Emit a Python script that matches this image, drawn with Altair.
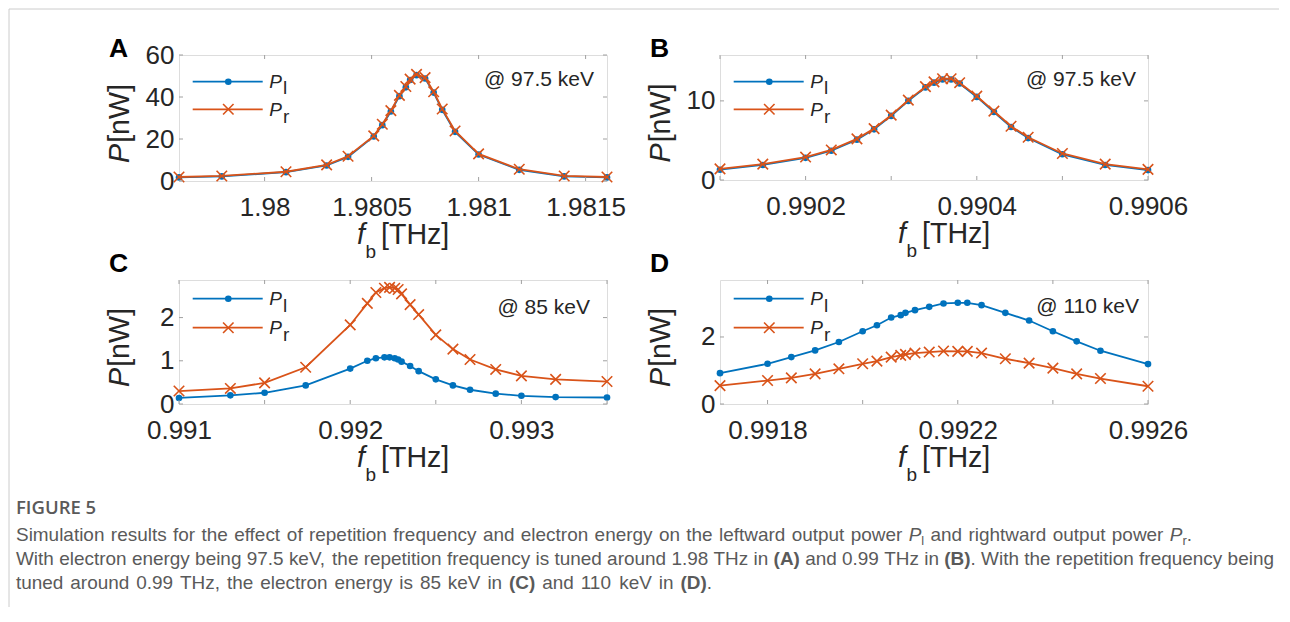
import altair as alt
import pandas as pd

BLUE = "#0072BD"
ORANGE = "#D95319"
AX = "#262626"
BOX = "#a0a0a0"
FONT = "Liberation Sans"
CAPCOL = "#5a5a5a"

# ---------------- data ----------------
a_f = [1.97960, 1.97980, 1.98010, 1.98029, 1.98039, 1.98051, 1.98055, 1.98059, 1.98063,
       1.98066, 1.98068, 1.98071, 1.98075, 1.98079, 1.98083, 1.98089, 1.98100, 1.98119,
       1.98140, 1.98160]
a_pr = [1.9, 2.4, 4.4, 7.7, 11.8, 21.5, 27.0, 33.5, 40.8, 45.0, 48.5, 50.8, 49.2, 42.5,
        34.3, 23.8, 12.9, 5.6, 2.4, 1.9]
a_pl = [1.7, 2.2, 4.2, 7.4, 11.5, 21.2, 26.6, 33.1, 40.4, 44.6, 48.1, 50.4, 48.8, 42.1,
        33.9, 23.4, 12.6, 5.3, 2.2, 1.7]

b_f = [0.99010, 0.99015, 0.99020, 0.99023, 0.99026, 0.99028, 0.99030, 0.99032, 0.99034,
       0.99035, 0.99036, 0.99037, 0.99038, 0.99040, 0.99042, 0.99044, 0.99046, 0.99050,
       0.99055, 0.99060]
b_pr = [1.4, 2.0, 2.9, 3.8, 5.2, 6.5, 8.2, 10.1, 11.8, 12.4, 12.8, 12.8, 12.3, 10.6, 8.7,
        6.8, 5.4, 3.35, 2.0, 1.35]
b_pl = [1.3, 1.9, 2.8, 3.7, 5.1, 6.4, 8.1, 10.0, 11.7, 12.3, 12.7, 12.7, 12.2, 10.5, 8.6,
        6.7, 5.3, 3.25, 1.9, 1.25]

c_f = [0.99100, 0.99130, 0.99150, 0.99174, 0.99200, 0.99210, 0.99215, 0.99220, 0.99223,
       0.99226, 0.99228, 0.99230, 0.99235, 0.99240, 0.99250, 0.99260, 0.99270, 0.99285,
       0.99300, 0.99320, 0.99350]
c_pr = [0.30, 0.36, 0.49, 0.85, 1.83, 2.33, 2.58, 2.68, 2.70, 2.68, 2.65, 2.55, 2.30, 2.07,
        1.60, 1.27, 1.03, 0.80, 0.65, 0.57, 0.52]
c_pl = [0.14, 0.20, 0.26, 0.43, 0.82, 1.00, 1.06, 1.08, 1.08, 1.06, 1.03, 0.98, 0.88, 0.76,
        0.57, 0.43, 0.33, 0.24, 0.19, 0.16, 0.15]

d_f = [0.99170, 0.99180, 0.99185, 0.99190, 0.99195, 0.99200, 0.99203, 0.99206, 0.99208,
       0.99209, 0.99211, 0.99214, 0.99217, 0.99220, 0.99222, 0.99225, 0.99230, 0.99235,
       0.99240, 0.99245, 0.99250, 0.99260]
d_pl = [0.92, 1.20, 1.40, 1.60, 1.85, 2.17, 2.35, 2.58, 2.65, 2.72, 2.80, 2.90, 3.00, 3.02,
        3.02, 2.95, 2.72, 2.49, 2.17, 1.87, 1.59, 1.19]
d_pr = [0.55, 0.70, 0.78, 0.90, 1.05, 1.20, 1.28, 1.40, 1.45, 1.48, 1.52, 1.55, 1.58, 1.57,
        1.57, 1.52, 1.35, 1.22, 1.07, 0.90, 0.76, 0.53]

a_xticks = [1.98, 1.9805, 1.981, 1.9815]
b_xlabels = [0.9902, 0.9904, 0.9906]
b_xticks = [0.9901, 0.9902, 0.9903, 0.9904, 0.9905, 0.9906]
c_xlabels = [0.991, 0.992, 0.993]
c_xticks = [0.991, 0.9915, 0.992, 0.9925, 0.993, 0.9935]
d_xlabels = [0.9918, 0.9922, 0.9926]
d_xticks = [0.9918, 0.9920, 0.9922, 0.9924, 0.9926]
a_yticks = [0, 20, 40, 60]
b_yticks = [0, 10]
c_yticks = [0, 1, 2]
d_yticks = [0, 2]

cap_head = "FIGURE 5"
cap_l1 = ["Simulation results for the effect of repetition frequency and electron energy on the leftward output power ",
          "P", "l", " and rightward output power ", "P", "r", "."]
cap_l2 = ["With electron energy being 97.5 keV, the repetition frequency is tuned around 1.98 THz in ",
          "(A)", " and 0.99 THz in ", "(B)", ". With the repetition frequency being"]
cap_l3 = ["tuned around 0.99 THz, the electron energy is 85 keV in ", "(C)", " and 110 keV in ",
          "(D)", "."]

# ---- Helvetica / Arial (= Liberation Sans) advance widths, 1/1000 em ----
_W = {' ': 278, '!': 278, '(': 333, ')': 333, ',': 278, '-': 333, '.': 278, '/': 278,
      ':': 278, ';': 278, '@': 1015, '[': 278, ']': 278, '_': 556}
for ch in "0123456789":
    _W[ch] = 556
_W.update(dict(zip("ABCDEFGHIJKLMNOPQRSTUVWXYZ",
                   [667, 667, 722, 722, 667, 611, 778, 722, 278, 500, 667, 556, 833, 722, 778,
                    667, 778, 722, 667, 611, 722, 667, 944, 667, 667, 611])))
_W.update(dict(zip("abcdefghijklmnopqrstuvwxyz",
                   [556, 556, 500, 556, 556, 278, 556, 556, 222, 222, 500, 222, 833, 556, 556,
                    556, 556, 333, 500, 278, 556, 500, 722, 500, 500, 500])))
_WB = dict(_W)
_WB.update({'A': 722, 'B': 722, 'C': 722, 'D': 722, '(': 333, ')': 333})


def tw(s, size, bold=False):
    tab = _WB if bold else _W
    return sum(tab.get(ch, 556) for ch in s) * size / 1000.0


def ann(text, x, y, size, font=FONT, align="left", baseline="alphabetic", angle=None,
        weight="normal", style="normal", color=AX):
    kw = dict(align=align, baseline=baseline, fontSize=size, font=font,
              fontWeight=weight, fontStyle=style, color=color)
    if angle is not None:
        kw["angle"] = angle
    return alt.Chart(alt.Data(values=[{"t": text}])).mark_text(**kw).encode(
        x=alt.value(x), y=alt.value(y), text="t:N")


def hrule(x1, x2, y, color, width=1.0):
    return alt.Chart(alt.Data(values=[{"a": 0}])).mark_rule(color=color, strokeWidth=width).encode(
        x=alt.value(x1), x2=alt.value(x2), y=alt.value(y))


def vrule(x, y1, y2, color, width=1.0):
    return alt.Chart(alt.Data(values=[{"a": 0}])).mark_rule(color=color, strokeWidth=width).encode(
        x=alt.value(x), y=alt.value(y1), y2=alt.value(y2))


XSHAPE = "M-1,-1L1,1M-1,1L1,-1"


def panel(f, pl, pr, xdom, ydom, xlabels, xticks, yticks, W, H, xfmt,
          letter, energy, leg_y, leg_txt_y, energy_xy):
    xsc = alt.Scale(domain=xdom, nice=False, zero=False)
    ysc = alt.Scale(domain=ydom, nice=False, zero=False)
    xax = alt.Axis(values=xlabels, format=xfmt, title=None, ticks=False, domain=False,
                   grid=False, labelFontSize=26, labelFont=FONT, labelColor=AX,
                   labelPadding=13, labelFlush=False, labelOverlap=False, labelBound=False)
    yax = alt.Axis(values=yticks, format="d", title=None, ticks=False, domain=False,
                   grid=False, labelFontSize=26, labelFont=FONT, labelColor=AX,
                   labelPadding=5, labelFlush=False, labelOverlap=False, labelBound=False)
    X = lambda fld: alt.X(fld, scale=xsc, axis=xax)
    Y = lambda fld: alt.Y(fld, scale=ysc, axis=yax)
    dl = pd.DataFrame({"f": f, "P": pl})
    dr = pd.DataFrame({"f": f, "P": pr})
    layers = []
    layers.append(alt.Chart(dl).mark_line(color=BLUE, strokeWidth=1.8).encode(x=X("f:Q"), y=Y("P:Q")))
    layers.append(alt.Chart(dl).mark_circle(color=BLUE, size=44, opacity=1).encode(x=X("f:Q"), y=Y("P:Q")))
    layers.append(alt.Chart(dr).mark_line(color=ORANGE, strokeWidth=1.8).encode(x=X("f:Q"), y=Y("P:Q")))
    layers.append(alt.Chart(dr).mark_point(shape=XSHAPE, color=ORANGE, size=110, filled=False,
                                           strokeWidth=1.6, opacity=1).encode(x=X("f:Q"), y=Y("P:Q")))
    # inward ticks (box on all sides)
    tx = pd.DataFrame({"f": xticks})
    ty = pd.DataFrame({"P": yticks})
    for (a, b) in [(H, H - 4), (0, 4)]:
        layers.append(alt.Chart(tx).mark_rule(color=BOX, strokeWidth=1).encode(
            x=X("f:Q"), y=alt.value(a), y2=alt.value(b)))
    for (a, b) in [(0, 4), (W, W - 4)]:
        layers.append(alt.Chart(ty).mark_rule(color=BOX, strokeWidth=1).encode(
            y=Y("P:Q"), x=alt.value(a), x2=alt.value(b)))
    # legend (hand drawn, top-left inside)
    ly1, ly2 = leg_y
    t1, t2 = leg_txt_y
    layers.append(hrule(13.7, 83.7, ly1, BLUE, 1.8))
    layers.append(alt.Chart(alt.Data(values=[{"a": 0}])).mark_circle(color=BLUE, size=44, opacity=1).encode(
        x=alt.value(49.3), y=alt.value(ly1)))
    layers.append(hrule(13.7, 83.7, ly2, ORANGE, 1.8))
    layers.append(alt.Chart(alt.Data(values=[{"a": 0}])).mark_point(
        shape=XSHAPE, color=ORANGE, size=110, filled=False, strokeWidth=1.6, opacity=1).encode(
        x=alt.value(49.3), y=alt.value(ly2)))
    layers.append(ann("P", 90.3, t1, 19, style="italic"))
    layers.append(ann("l", 104, t1 + 6.5, 19))
    layers.append(ann("P", 90.3, t2, 19, style="italic"))
    layers.append(ann("r", 104, t2 + 6.5, 19))
    # energy label
    layers.append(ann(energy, energy_xy[0], energy_xy[1], 21, align="right"))
    # panel letter
    layers.append(ann(letter, -70, -8 if letter in "CD" else 2, 26.5, weight="bold", color="#000000"))
    # y title  P[nW]  (rotated, reads bottom-to-top)
    ysz = 28.6
    ylen = tw("P", ysz) + tw("[nW]", ysz)
    ystart = H / 2 + 6 + ylen / 2
    layers.append(ann("P", -50, ystart, ysz, angle=270, style="italic"))
    layers.append(ann("[nW]", -50, ystart - tw("P", ysz) - 1, ysz, angle=270))
    # x title  f_b [THz]
    x0 = W / 2 - 36
    layers.append(ann("f", x0, H + 63, 28.6, style="italic"))
    layers.append(ann("b", x0 + tw("f", 28.6) + 0.5, H + 77, 19))
    layers.append(ann("[THz]", x0 + 24, H + 63, 28.6))
    return layers


pa = panel(a_f, a_pl, a_pr, [1.97960, 1.98160], [0, 60], a_xticks, a_xticks, a_yticks,
           428, 126, ".4~f", "A", "@ 97.5 keV", (26.7, 54.3), (32.7, 61), (415, 31))
pb = panel(b_f, b_pl, b_pr, [0.99010, 0.99060], [0, 15.8], b_xlabels, b_xticks, b_yticks,
           428, 125, ".4~f", "B", "@ 97.5 keV", (26.7, 54.3), (32.7, 61), (416, 31))
pc = panel(c_f, c_pl, c_pr, [0.99100, 0.99350], [0, 2.87], c_xlabels, c_xticks, c_yticks,
           428, 124, ".3~f", "C", "@ 85 keV", (18.7, 47.7), (25.3, 54), (411, 34))
pd_ = panel(d_f, d_pl, d_pr, [0.99170, 0.99260], [0, 3.7], d_xlabels, d_xticks, d_yticks,
            428, 124, ".4~f", "D", "@ 110 keV", (18.7, 47.7), (25.3, 54), (419, 33))

# frame lines of the figure (drawn from panel A's layer, relative to its plot)
pa.append(vrule(-170, -46, 552, "#cccccc", 1))
pa.append(hrule(-170, 1100, -46, "#cccccc", 1))

# ---------------- caption (relative to panel C plot origin: page = (178, 279) + rel) ----------------
ORX = 178
CAP_LEFT = 15
CAPSIZE = round(1258 / (sum(tw(p, 1000, bold=p.startswith("(")) for p in cap_l2) / 1000.0), 2)
SUB = 0.68 * CAPSIZE


def style_of(k):
    if k == "sub":
        return SUB, False, False, 0.22 * CAPSIZE
    if k == "it":
        return CAPSIZE, False, True, 0
    if k == "b":
        return CAPSIZE, True, False, 0
    return CAPSIZE, False, False, 0


def caption_line(pieces, kinds, y, right_end):
    toks = []
    for s, k in zip(pieces, kinds):
        parts = s.split(" ")
        for i, p in enumerate(parts):
            if i > 0:
                toks.append((" ", "sp"))
            if p:
                toks.append((p, k))
    spw = tw(" ", CAPSIZE)
    natural = sum(spw if k == "sp" else tw(t, style_of(k)[0], style_of(k)[1]) for t, k in toks)
    nsp = sum(1 for _, k in toks if k == "sp")
    extra = (right_end - CAP_LEFT - natural) / max(nsp, 1)
    out = []
    x = CAP_LEFT - ORX
    for t, k in toks:
        if k == "sp":
            x += spw + extra
            continue
        size, bold, ital, dy = style_of(k)
        out.append(ann(t, x, y + dy, size, color=CAPCOL,
                       weight="bold" if bold else "normal",
                       style="italic" if ital else "normal"))
        x += tw(t, size, bold)
    return out


pc.append(ann(cap_head, CAP_LEFT - ORX, 234, 18.5, font="Open Sans", weight=600, color=CAPCOL))
pc += caption_line(cap_l1, ["n", "it", "sub", "n", "it", "sub", "n"], 261, 1191)
pc += caption_line(cap_l2, ["n", "b", "n", "b", "n"], 285, 1273)
pc += caption_line(cap_l3, ["n", "b", "n", "b", "n"], 309, 711)

A = alt.layer(*pa).properties(width=428, height=126)
B = alt.layer(*pb).properties(width=428, height=125)
C = alt.layer(*pc).properties(width=428, height=124)
D = alt.layer(*pd_).properties(width=428, height=124)

chart = alt.concat(A, B, C, D, columns=2, spacing={"row": 99, "column": 113},
                   bounds="flush").properties(padding=0).configure_view(
    stroke=BOX, strokeWidth=1).configure(background="white")

chart.save("out.html", embed_options={"renderer": "svg", "actions": False})
